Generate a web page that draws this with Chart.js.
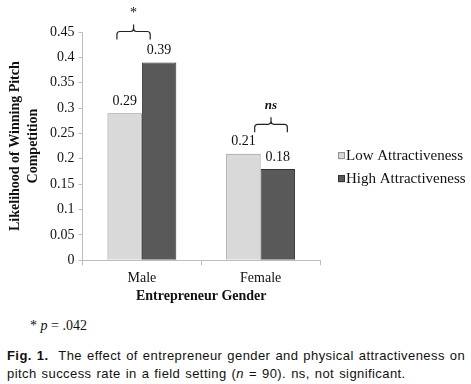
<!DOCTYPE html>
<html>
<head>
<meta charset="utf-8">
<script src="https://cdn.jsdelivr.net/npm/chart.js@4"></script>
<style>
  html, body { margin: 0; padding: 0; background: #fff; }
  #wrap { position: relative; width: 471px; height: 310px; }
  #note { position: absolute; left: 30px; top: 318px; font: 14px "Liberation Serif", serif; color: #111; }
  #cap { position: absolute; left: 7px; top: 347px; width: 464px; font: 13px "Liberation Sans", Arial, sans-serif; color: #111; line-height: 18px; letter-spacing: 0.42px; word-spacing: 1px; }
</style>
</head>
<body>
<div id="wrap"><canvas id="c"></canvas></div>
<div id="note">* <i>p</i> = .042</div>
<div id="cap"><b>Fig. 1.</b>&nbsp; The effect of entrepreneur gender and physical attractiveness on pitch success rate in a field setting (<i>n</i> = 90). ns, not significant.</div>
<script>
const categories = ['Male', 'Female'];
const lowAttractiveness = [0.29, 0.21];
const highAttractiveness = [0.39, 0.18];
const yTicks = [0, 0.05, 0.1, 0.15, 0.2, 0.25, 0.3, 0.35, 0.4, 0.45];
const brackets = [
  { cat: 0, from: -0.21, to: 0.07, top: 0.451, label: '*', italic: false },
  { cat: 1, from: -0.05, to: 0.225, top: 0.268, label: 'ns', italic: true }
];

const SERIF = '"Liberation Serif", "Times New Roman", serif';

const valueLabels = {
  id: 'valueLabels',
  afterDatasetsDraw(chart) {
    const ctx = chart.ctx;
    ctx.save();
    ctx.font = '14px ' + SERIF;
    ctx.fillStyle = '#111';
    ctx.textAlign = 'center';
    ctx.textBaseline = 'bottom';
    chart.data.datasets.forEach((ds, i) => {
      chart.getDatasetMeta(i).data.forEach((bar, j) => {
        ctx.fillText(ds.data[j].toFixed(2), bar.x, bar.y - 5);
      });
    });
    ctx.restore();
  }
};

const sideLegend = {
  id: 'sideLegend',
  afterDraw(chart) {
    const ctx = chart.ctx;
    const x0 = chart.chartArea.right + 18;
    const yMid = (chart.chartArea.top + chart.chartArea.bottom) / 2 + 21;
    const gap = 23;
    ctx.save();
    ctx.font = '15px ' + SERIF;
    ctx.textBaseline = 'middle';
    ctx.textAlign = 'left';
    chart.data.datasets.forEach((ds, i) => {
      const y = yMid + (i - 0.5) * gap;
      ctx.fillStyle = ds.backgroundColor;
      ctx.strokeStyle = ds.borderColor;
      ctx.lineWidth = 1;
      ctx.fillRect(x0, y - 3.5, 7, 7);
      ctx.strokeRect(x0 + 0.5, y - 3, 6, 6);
      ctx.fillStyle = '#111';
      ctx.fillText(ds.label, x0 + 8, y + 0.5);
    });
    ctx.restore();
  }
};

const bracketPlugin = {
  id: 'brackets',
  afterDraw(chart) {
    const ctx = chart.ctx;
    const xs = chart.scales.x, ys = chart.scales.y;
    const cw = xs.getPixelForValue(1) - xs.getPixelForValue(0);
    ctx.save();
    ctx.strokeStyle = '#222';
    ctx.lineWidth = 1.2;
    brackets.forEach(b => {
      const cx = xs.getPixelForValue(b.cat);
      const x1 = cx + b.from * cw, x2 = cx + b.to * cw;
      const y = ys.getPixelForValue(b.top);
      const mid = (x1 + x2) / 2;
      const r = 3;
      ctx.beginPath();
      ctx.moveTo(x1, y + 8);
      ctx.lineTo(x1, y + r);
      ctx.quadraticCurveTo(x1, y, x1 + r, y);
      ctx.lineTo(mid - r, y);
      ctx.quadraticCurveTo(mid, y, mid, y - r);
      ctx.lineTo(mid, y - 7);
      ctx.moveTo(mid, y - r);
      ctx.quadraticCurveTo(mid, y, mid + r, y);
      ctx.lineTo(x2 - r, y);
      ctx.quadraticCurveTo(x2, y, x2, y + r);
      ctx.lineTo(x2, y + 8);
      ctx.stroke();
      ctx.fillStyle = '#111';
      ctx.textAlign = 'center';
      ctx.textBaseline = 'bottom';
      ctx.font = (b.italic ? 'italic bold 13px ' : '14px ') + SERIF;
      ctx.fillText(b.label, mid, y - (b.italic ? 12 : 11));
    });
    ctx.restore();
  }
};

new Chart(document.getElementById('c'), {
  type: 'bar',
  data: {
    labels: categories,
    datasets: [
      { label: 'Low Attractiveness', data: lowAttractiveness, backgroundColor: '#d9d9d9', borderColor: '#8f8f8f', borderWidth: 1 },
      { label: 'High Attractiveness', data: highAttractiveness, backgroundColor: '#595959', borderColor: '#333333', borderWidth: 1 }
    ]
  },
  options: {
    responsive: true,
    maintainAspectRatio: false,
    animation: false,
    layout: { padding: { top: 32, right: 151, left: 7, bottom: 7 } },
    datasets: { bar: { categoryPercentage: 0.58, barPercentage: 1.0 } },
    plugins: {
      legend: { display: false },
      tooltip: { enabled: false }
    },
    scales: {
      x: {
        grid: { display: true, drawOnChartArea: false, offset: true, color: '#bdbdbd', tickLength: 5 },
        border: { display: true, color: '#bdbdbd' },
        ticks: { color: '#111', font: { family: SERIF, size: 14 }, padding: 5 },
        title: { display: true, text: 'Entrepreneur Gender', color: '#111', font: { family: SERIF, size: 14, weight: 'bold', lineHeight: 1.0 }, padding: { top: -3, bottom: 0 } }
      },
      y: {
        min: 0, max: 0.45,
        afterBuildTicks(scale) { scale.ticks = yTicks.map(v => ({ value: v })); },
        grid: { display: true, drawOnChartArea: false, color: '#bdbdbd', tickLength: 4 },
        border: { display: true, color: '#bdbdbd' },
        ticks: { color: '#111', font: { family: SERIF, size: 14 }, padding: 4, callback: v => String(v) },
        title: { display: true, text: ['Likelihood of Winning Pitch', 'Competition'], color: '#111', font: { family: SERIF, size: 14, weight: 'bold', lineHeight: 1.25 }, padding: { top: 0, bottom: 4 } }
      }
    }
  },
  plugins: [valueLabels, sideLegend, bracketPlugin]
});
</script>
</body>
</html>
